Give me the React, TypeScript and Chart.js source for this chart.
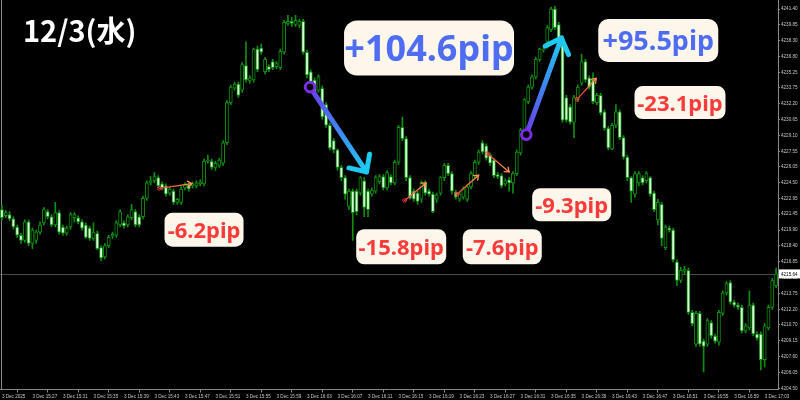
import React, { useEffect, useRef } from 'react';
import { Chart, registerables } from 'chart.js';

Chart.register(...registerables);

// ---------- data (30-second candles, 3 Dec) ----------
const OPEN = [
  4221.9, 4221.3, 4221.4, 4221.0, 4220.2, 4219.4, 4218.9, 4220.7, 4218.6, 4218.9,
  4219.7, 4220.6, 4221.7, 4221.2, 4220.4, 4221.6, 4220.2, 4219.6, 4220.2, 4221.1,
  4221.1, 4220.7, 4220.4, 4220.1, 4219.1, 4219.6, 4218.2, 4217.3, 4218.4, 4219.3,
  4219.4, 4220.4, 4220.6, 4220.4, 4221.1, 4221.7, 4221.2, 4221.2, 4223.0, 4224.5,
  4224.7, 4225.0, 4224.4, 4224.2, 4223.5, 4223.7, 4222.6, 4222.6, 4224.0, 4224.3,
  4224.2, 4224.2, 4224.4, 4224.4, 4226.6, 4226.6, 4226.0, 4226.2, 4226.4, 4228.4,
  4232.3, 4233.7, 4234.1, 4233.5, 4235.9, 4234.4, 4234.5, 4237.5, 4237.6, 4235.3,
  4235.8, 4236.3, 4235.8, 4235.7, 4237.2, 4240.0, 4240.2, 4239.9, 4239.8, 4240.2,
  4237.2, 4235.3, 4234.5, 4233.5, 4233.7, 4232.1, 4230.1, 4228.6, 4227.7, 4226.0,
  4225.0, 4222.2, 4223.7, 4223.7, 4223.5, 4224.7, 4223.7, 4223.4, 4223.7, 4224.6,
  4225.1, 4224.0, 4225.1, 4224.5, 4226.5, 4229.9, 4228.8, 4225.0, 4223.7, 4223.5,
  4222.9, 4224.5, 4223.7, 4223.4, 4222.9, 4223.5, 4225.0, 4226.2, 4225.4, 4223.6,
  4222.9, 4223.1, 4222.9, 4224.1, 4225.2, 4226.5, 4228.4, 4228.1, 4227.2, 4226.7,
  4225.3, 4225.2, 4224.4, 4224.8, 4224.5, 4225.4, 4227.4, 4229.3, 4232.4, 4233.8,
  4234.8, 4236.5, 4237.4, 4238.2, 4239.4, 4241.4, 4239.9, 4238.6, 4232.8, 4231.9,
  4230.4, 4232.6, 4234.2, 4236.3, 4234.7, 4234.5, 4232.3, 4233.0, 4231.4, 4229.8,
  4227.8, 4230.1, 4231.4, 4228.9, 4227.0, 4225.0, 4223.4, 4224.5, 4225.0, 4224.7,
  4225.0, 4223.5, 4220.9, 4222.4, 4218.2, 4220.1, 4219.9, 4216.8, 4215.0, 4215.9,
  4216.0, 4211.9, 4208.8, 4211.8, 4209.1, 4208.8, 4210.9, 4209.6, 4209.0, 4211.8,
  4213.8, 4214.8, 4212.9, 4212.6, 4212.4, 4210.1, 4210.4, 4212.6, 4209.8, 4209.8,
  4207.3, 4210.4, 4212.4, 4214.5,
];
const HIGH = [
  4222.3, 4221.8, 4221.7, 4221.2, 4220.4, 4219.6, 4220.9, 4220.9, 4220.1, 4219.9,
  4220.7, 4222.1, 4221.9, 4221.4, 4222.6, 4221.8, 4220.4, 4220.3, 4221.6, 4221.6,
  4221.3, 4220.9, 4220.6, 4220.3, 4220.6, 4219.8, 4218.4, 4218.6, 4219.4, 4219.7,
  4220.8, 4221.9, 4220.8, 4221.4, 4222.4, 4221.9, 4221.4, 4223.2, 4224.7, 4225.1,
  4225.5, 4225.2, 4224.6, 4224.4, 4224.1, 4223.9, 4223.0, 4224.1, 4224.5, 4224.5,
  4224.6, 4224.7, 4224.8, 4226.8, 4227.2, 4226.8, 4226.6, 4226.9, 4228.6, 4232.5,
  4234.0, 4234.3, 4234.3, 4236.2, 4238.2, 4234.9, 4237.6, 4237.8, 4238.0, 4236.7,
  4236.0, 4236.5, 4236.3, 4237.5, 4240.3, 4240.8, 4240.6, 4240.8, 4240.4, 4240.4,
  4237.4, 4235.5, 4234.7, 4235.0, 4233.9, 4232.3, 4230.3, 4228.8, 4227.8, 4226.2,
  4225.2, 4223.9, 4223.9, 4223.9, 4225.1, 4225.0, 4223.9, 4224.0, 4225.2, 4225.3,
  4225.3, 4225.7, 4225.3, 4226.7, 4230.1, 4230.9, 4229.0, 4225.2, 4223.9, 4223.7,
  4224.7, 4224.7, 4223.9, 4223.6, 4223.5, 4225.1, 4226.4, 4226.4, 4225.6, 4223.8,
  4223.6, 4224.1, 4224.3, 4225.6, 4226.7, 4227.7, 4228.6, 4228.3, 4227.4, 4226.9,
  4225.5, 4225.4, 4224.9, 4225.0, 4225.6, 4227.7, 4229.8, 4232.7, 4234.0, 4235.0,
  4236.7, 4237.6, 4237.7, 4239.8, 4241.6, 4241.7, 4240.1, 4238.8, 4233.0, 4232.1,
  4233.0, 4234.0, 4237.0, 4236.5, 4234.9, 4235.2, 4233.2, 4233.2, 4231.6, 4230.0,
  4230.3, 4232.1, 4231.6, 4229.1, 4227.2, 4225.1, 4225.6, 4225.6, 4225.2, 4225.6,
  4225.1, 4223.7, 4222.9, 4222.6, 4220.4, 4220.3, 4220.1, 4217.0, 4216.3, 4216.4,
  4216.2, 4212.1, 4212.0, 4212.0, 4209.3, 4211.3, 4211.1, 4209.8, 4212.1, 4214.0,
  4214.9, 4215.0, 4213.1, 4212.8, 4212.6, 4210.8, 4214.0, 4212.8, 4210.0, 4210.0,
  4210.8, 4212.6, 4215.2, 4216.2,
];
const LOW = [
  4220.9, 4221.1, 4220.8, 4220.0, 4219.2, 4218.6, 4218.7, 4218.4, 4218.1, 4218.6,
  4219.5, 4220.4, 4221.0, 4220.2, 4220.2, 4219.5, 4219.4, 4219.4, 4220.0, 4220.7,
  4220.5, 4219.9, 4219.1, 4218.9, 4218.9, 4218.0, 4216.9, 4217.1, 4218.2, 4219.1,
  4219.2, 4220.2, 4220.1, 4220.2, 4220.9, 4220.2, 4220.2, 4221.0, 4222.8, 4224.3,
  4224.5, 4224.0, 4223.8, 4223.2, 4223.3, 4222.4, 4222.4, 4222.4, 4223.8, 4223.7,
  4224.0, 4224.0, 4224.2, 4224.2, 4226.4, 4225.8, 4225.7, 4226.0, 4226.2, 4228.2,
  4232.1, 4233.5, 4232.8, 4233.3, 4234.3, 4234.2, 4234.3, 4235.3, 4237.0, 4235.1,
  4235.3, 4235.5, 4235.6, 4235.5, 4237.0, 4239.8, 4239.7, 4239.7, 4239.6, 4237.0,
  4234.7, 4234.0, 4233.1, 4233.3, 4230.7, 4229.9, 4227.7, 4227.4, 4225.7, 4224.7,
  4222.9, 4221.9, 4218.9, 4221.4, 4223.3, 4221.2, 4221.2, 4223.2, 4223.5, 4224.4,
  4223.8, 4223.8, 4224.3, 4224.3, 4226.3, 4228.6, 4224.7, 4222.9, 4222.7, 4222.4,
  4222.6, 4223.3, 4223.2, 4221.6, 4222.6, 4223.3, 4224.7, 4225.2, 4223.4, 4222.9,
  4222.7, 4222.9, 4222.7, 4223.9, 4225.0, 4226.3, 4227.3, 4226.7, 4226.2, 4225.0,
  4224.9, 4224.0, 4224.2, 4223.7, 4223.5, 4225.2, 4227.2, 4229.1, 4232.2, 4233.6,
  4234.6, 4236.3, 4237.2, 4237.6, 4239.2, 4239.4, 4238.4, 4230.4, 4230.4, 4230.2,
  4228.9, 4232.4, 4234.0, 4234.3, 4233.6, 4232.2, 4232.1, 4231.1, 4229.6, 4227.7,
  4227.7, 4229.9, 4228.7, 4226.8, 4224.7, 4222.6, 4223.1, 4224.2, 4224.3, 4224.5,
  4223.2, 4221.7, 4220.4, 4218.4, 4218.0, 4219.7, 4216.8, 4214.5, 4214.8, 4215.7,
  4211.7, 4210.6, 4208.6, 4208.6, 4206.1, 4208.6, 4209.4, 4208.9, 4208.7, 4211.6,
  4213.6, 4212.7, 4212.4, 4212.2, 4209.9, 4209.9, 4210.2, 4209.6, 4209.2, 4206.3,
  4206.6, 4210.2, 4212.2, 4214.3,
];
const CLOSE = [
  4221.1, 4221.6, 4221.0, 4220.2, 4219.4, 4218.9, 4220.7, 4218.6, 4219.9, 4219.7,
  4220.4, 4221.9, 4221.2, 4220.4, 4221.6, 4219.7, 4219.6, 4220.1, 4221.4, 4221.4,
  4220.7, 4220.1, 4219.2, 4219.1, 4219.7, 4218.1, 4217.2, 4218.4, 4219.2, 4219.5,
  4220.6, 4221.7, 4220.3, 4221.2, 4221.9, 4220.4, 4220.4, 4223.0, 4224.5, 4224.7,
  4225.1, 4224.2, 4224.0, 4223.4, 4223.9, 4222.6, 4222.9, 4223.9, 4224.3, 4223.9,
  4224.4, 4224.5, 4224.6, 4226.6, 4226.7, 4226.0, 4226.4, 4226.7, 4228.4, 4232.3,
  4233.8, 4234.1, 4233.0, 4236.0, 4234.5, 4234.7, 4237.5, 4235.5, 4237.2, 4236.5,
  4235.5, 4235.7, 4236.1, 4237.3, 4240.1, 4240.2, 4240.0, 4240.3, 4240.2, 4237.2,
  4235.0, 4234.2, 4233.3, 4234.8, 4230.9, 4230.1, 4227.9, 4227.7, 4226.0, 4225.0,
  4223.4, 4223.7, 4221.6, 4221.7, 4225.0, 4222.1, 4221.9, 4223.8, 4225.0, 4225.1,
  4224.0, 4225.5, 4224.5, 4226.5, 4229.9, 4228.8, 4225.0, 4223.0, 4222.9, 4222.7,
  4224.5, 4223.5, 4223.4, 4221.7, 4223.3, 4225.0, 4226.2, 4225.4, 4223.7, 4223.1,
  4223.4, 4223.9, 4224.1, 4225.4, 4226.5, 4227.5, 4227.5, 4226.9, 4226.4, 4225.2,
  4225.1, 4224.2, 4224.7, 4224.5, 4225.4, 4227.5, 4229.6, 4232.6, 4233.8, 4234.8,
  4236.5, 4237.5, 4237.5, 4239.6, 4241.4, 4239.6, 4238.6, 4230.6, 4230.6, 4230.4,
  4232.8, 4233.8, 4236.3, 4234.5, 4233.8, 4232.4, 4233.0, 4231.3, 4229.8, 4227.9,
  4230.1, 4231.4, 4228.9, 4227.0, 4225.0, 4223.7, 4225.4, 4225.4, 4224.5, 4225.4,
  4223.4, 4221.9, 4222.6, 4219.1, 4220.2, 4219.9, 4217.0, 4215.0, 4216.0, 4216.1,
  4211.9, 4210.8, 4211.8, 4208.8, 4208.6, 4211.1, 4209.6, 4209.1, 4211.9, 4213.8,
  4214.7, 4212.9, 4212.6, 4212.4, 4210.1, 4210.6, 4212.6, 4209.8, 4209.4, 4207.3,
  4210.6, 4212.4, 4215.0, 4215.64,
];

const TIME_LABELS = [
  '3 Dec 2025', '3 Dec 15:27', '3 Dec 15:31', '3 Dec 15:35', '3 Dec 15:39', '3 Dec 15:43',
  '3 Dec 15:47', '3 Dec 15:51', '3 Dec 15:55', '3 Dec 15:59', '3 Dec 16:03', '3 Dec 16:07',
  '3 Dec 16:11', '3 Dec 16:15', '3 Dec 16:19', '3 Dec 16:23', '3 Dec 16:27', '3 Dec 16:31',
  '3 Dec 16:35', '3 Dec 16:39', '3 Dec 16:43', '3 Dec 16:47', '3 Dec 16:51', '3 Dec 16:55',
  '3 Dec 16:59', '3 Dec 17:03',
];
const BARS_PER_TIME_LABEL = 8;

const PRICE_TICKS = [
  4241.40, 4239.85, 4238.30, 4236.80, 4235.25, 4233.75, 4232.20, 4230.65, 4229.10,
  4227.55, 4226.05, 4224.50, 4222.95, 4221.45, 4219.90, 4218.40, 4216.85, 4215.30,
  4213.75, 4212.20, 4210.70, 4209.15, 4207.60, 4206.05, 4204.50,
];
const PRICE_MIN = 4204.40;
const PRICE_MAX = 4242.28;
const CURRENT_PRICE = 4215.64;

const TITLE = '12/3(水)';
const PIP_TEXTS = ['+104.6pip', '+95.5pip', '-23.1pip', '-9.3pip', '-6.2pip', '-15.8pip', '-7.6pip'];

// annotation anchors: [bar index, price]
const BIG_ARROWS = [
  { from: [80.8, 4233.81], to: [95.6, 4225.56] },
  { from: [137.5, 4229.19], to: [146.7, 4238.58] },
];
const SMALL_ARROWS = [
  { from: [41.3, 4223.95], to: [49.8, 4224.43] },
  { from: [105.6, 4222.78], to: [111.2, 4224.49] },
  { from: [119.3, 4223.39], to: [125.0, 4225.24] },
  { from: [127.3, 4227.35], to: [133.0, 4225.56] },
  { from: [150.8, 4232.61], to: [155.8, 4234.66] },
];
const BLUE = '#4f6df3';
const RED = '#fb3a3a';
const BOXES = [
  { text: PIP_TEXTS[0], at: [112.0, 4237.61], w: 170, h: 55, r: 13, size: 36, color: BLUE },
  { text: PIP_TEXTS[1], at: [172.1, 4238.34], w: 120, h: 43, r: 10, size: 27, color: BLUE },
  { text: PIP_TEXTS[2], at: [177.8, 4232.30], w: 91, h: 33, r: 8, size: 22, color: RED },
  { text: PIP_TEXTS[3], at: [149.4, 4222.37], w: 79, h: 33, r: 8, size: 22, color: RED },
  { text: PIP_TEXTS[4], at: [53.0, 4219.94], w: 79, h: 34, r: 8, size: 22, color: RED },
  { text: PIP_TEXTS[5], at: [104.7, 4218.28], w: 90, h: 35, r: 8, size: 22, color: RED },
  { text: PIP_TEXTS[6], at: [131.2, 4218.28], w: 79, h: 35, r: 8, size: 22, color: RED },
];

// ---------- styles ----------
const GREEN = '#0f8f0f';
const BEAR_FILL = '#d8fcd8';
const AXIS_LINE = '#8a8a8a';
const AXIS_TEXT = '#c8c8c8';
const AXIS_FONT = { size: 4.6, family: '"Liberation Sans", Arial, sans-serif' };

function head(ctx: CanvasRenderingContext2D, tx: number, ty: number, fx: number, fy: number, len: number, ang: number) {
  const a = Math.atan2(fy - ty, fx - tx);
  ctx.beginPath();
  ctx.moveTo(tx + len * Math.cos(a + ang), ty + len * Math.sin(a + ang));
  ctx.lineTo(tx, ty);
  ctx.lineTo(tx + len * Math.cos(a - ang), ty + len * Math.sin(a - ang));
  ctx.stroke();
}

const overlay = {
  id: 'overlay',
  beforeDatasetsDraw(chart: any) {
    const { ctx, chartArea: a, scales } = chart;
    const py = Math.round(scales.y.getPixelForValue(CURRENT_PRICE)) + 0.5;
    ctx.save();
    ctx.strokeStyle = '#4a4a4a';
    ctx.lineWidth = 1;
    ctx.beginPath();
    ctx.moveTo(a.left, py);
    ctx.lineTo(a.right, py);
    ctx.stroke();
    ctx.strokeStyle = AXIS_LINE;
    ctx.beginPath();
    ctx.moveTo(a.left + 1.5, a.top);
    ctx.lineTo(a.left + 1.5, a.bottom);
    ctx.stroke();
    ctx.restore();
  },
  afterDraw(chart: any) {
    const { ctx, chartArea: a, scales } = chart;
    const X = (v: number) => scales.x.getPixelForValue(v);
    const Y = (v: number) => scales.y.getPixelForValue(v);
    ctx.save();

    // small red/orange arrows
    SMALL_ARROWS.forEach(({ from, to }) => {
      const x1 = X(from[0]), y1 = Y(from[1]), x2 = X(to[0]), y2 = Y(to[1]);
      const g = ctx.createLinearGradient(x1, y1, x2, y2);
      g.addColorStop(0, '#f23a3a');
      g.addColorStop(1, '#ff9552');
      ctx.strokeStyle = g;
      ctx.lineWidth = 1.3;
      ctx.lineCap = 'round';
      ctx.beginPath();
      ctx.moveTo(x1, y1);
      ctx.lineTo(x2, y2);
      ctx.stroke();
      ctx.strokeStyle = '#ff9552';
      head(ctx, x2, y2, x1, y1, 5, 0.65);
      ctx.strokeStyle = '#f23a3a';
      ctx.lineWidth = 1;
      ctx.beginPath();
      ctx.arc(x1, y1, 1.8, 0, Math.PI * 2);
      ctx.stroke();
    });

    // big gradient arrows
    BIG_ARROWS.forEach(({ from, to }) => {
      const x1 = X(from[0]), y1 = Y(from[1]), x2 = X(to[0]), y2 = Y(to[1]);
      const g = ctx.createLinearGradient(x1, y1, x2, y2);
      g.addColorStop(0, '#6a3ae8');
      g.addColorStop(0.5, '#3f86f0');
      g.addColorStop(1, '#1fcaf2');
      ctx.strokeStyle = g;
      ctx.lineWidth = 5;
      ctx.lineCap = 'round';
      ctx.lineJoin = 'round';
      ctx.beginPath();
      ctx.moveTo(x1, y1);
      ctx.lineTo(x2, y2);
      ctx.stroke();
      ctx.strokeStyle = '#1fcaf2';
      head(ctx, x2, y2, x1, y1, 18, 0.76);
      ctx.beginPath();
      ctx.arc(x1, y1, 4.8, 0, Math.PI * 2);
      ctx.fillStyle = '#000';
      ctx.fill();
      ctx.lineWidth = 3;
      ctx.strokeStyle = '#7a2ee2';
      ctx.stroke();
    });

    // pip boxes
    BOXES.forEach((b) => {
      const cx = X(b.at[0]), cy = Y(b.at[1]);
      ctx.fillStyle = '#fdf6ea';
      ctx.beginPath();
      ctx.roundRect(cx - b.w / 2, cy - b.h / 2, b.w, b.h, b.r);
      ctx.fill();
      ctx.fillStyle = b.color;
      ctx.font = `bold ${b.size}px "Noto Sans", "Open Sans", sans-serif`;
      ctx.textAlign = 'center';
      ctx.textBaseline = 'alphabetic';
      ctx.fillText(b.text, cx, cy + b.size * 0.36);
    });

    // title
    ctx.fillStyle = '#ffffff';
    ctx.font = 'bold 29px "Noto Sans CJK JP", "Noto Sans", sans-serif';
    ctx.textAlign = 'left';
    ctx.textBaseline = 'alphabetic';
    ctx.fillText(TITLE, 23, 42);

    // current price label
    const py = Y(CURRENT_PRICE);
    ctx.fillStyle = '#ffffff';
    ctx.fillRect(a.right + 1, py - 4.5, 800 - a.right - 1, 9);
    ctx.fillStyle = '#000000';
    ctx.font = `${AXIS_FONT.size}px ${AXIS_FONT.family}`;
    ctx.textBaseline = 'middle';
    ctx.fillText(CURRENT_PRICE.toFixed(2), a.right + 3, py + 0.5);
    ctx.restore();
  },
};

export default function App() {
  const ref = useRef<HTMLCanvasElement>(null);
  useEffect(() => {
    const canvas = ref.current;
    if (!canvas) return;
    const chart = new Chart(canvas, {
      type: 'bar',
      data: {
        datasets: [
          {
            label: 'body',
            data: OPEN.map((o, i) => ({ x: i, y: [o, CLOSE[i]] })) as any,
            backgroundColor: OPEN.map((o, i) => (CLOSE[i] > o ? '#000000' : BEAR_FILL)),
            borderColor: GREEN,
            borderWidth: 1,
            borderSkipped: false,
            barThickness: 3.2,
            grouped: false,
            order: 0,
          } as any,
          {
            label: 'wick',
            data: LOW.map((l, i) => ({ x: i, y: [l, HIGH[i]] })) as any,
            backgroundColor: GREEN,
            borderWidth: 0,
            barThickness: 1,
            grouped: false,
            order: 1,
          } as any,
        ],
      },
      options: {
        animation: false,
        responsive: false,
        devicePixelRatio: 1,
        events: [],
        layout: { padding: 0 },
        plugins: { legend: { display: false }, tooltip: { enabled: false } },
        scales: {
          x: {
            type: 'linear',
            min: -0.5,
            max: OPEN.length - 0.5,
            offset: false,
            afterBuildTicks: (s: any) => {
              s.ticks = TIME_LABELS.map((_, k) => ({ value: k * BARS_PER_TIME_LABEL }));
            },
            afterFit: (s: any) => {
              s.height = 10.5;
              s.paddingLeft = 0;
              s.paddingRight = 0;
            },
            ticks: {
              autoSkip: false,
              maxRotation: 0,
              minRotation: 0,
              align: 'start',
              padding: 1,
              color: AXIS_TEXT,
              font: AXIS_FONT,
              callback: (_v: any, i: number) => TIME_LABELS[i],
            },
            grid: { drawOnChartArea: false, drawTicks: true, tickLength: 3, tickColor: AXIS_LINE },
            border: { display: true, color: AXIS_LINE, width: 1 },
          },
          y: {
            position: 'right',
            min: PRICE_MIN,
            max: PRICE_MAX,
            afterBuildTicks: (s: any) => {
              s.ticks = PRICE_TICKS.map((v) => ({ value: v }));
            },
            afterFit: (s: any) => {
              s.width = 22;
              s.paddingTop = 0;
              s.paddingBottom = 0;
            },
            ticks: {
              padding: 1,
              color: AXIS_TEXT,
              font: AXIS_FONT,
              callback: (v: any) => Number(v).toFixed(2),
            },
            grid: { drawOnChartArea: false, drawTicks: true, tickLength: 2, tickColor: AXIS_LINE },
            border: { display: true, color: AXIS_LINE, width: 1 },
          },
        },
      } as any,
      plugins: [overlay],
    });
    return () => chart.destroy();
  }, []);
  return (
    <div style={{ position: 'fixed', left: 0, top: 0, width: 800, height: 400, background: '#000' }}>
      <canvas ref={ref} width={800} height={400} style={{ display: 'block' }} />
    </div>
  );
}
